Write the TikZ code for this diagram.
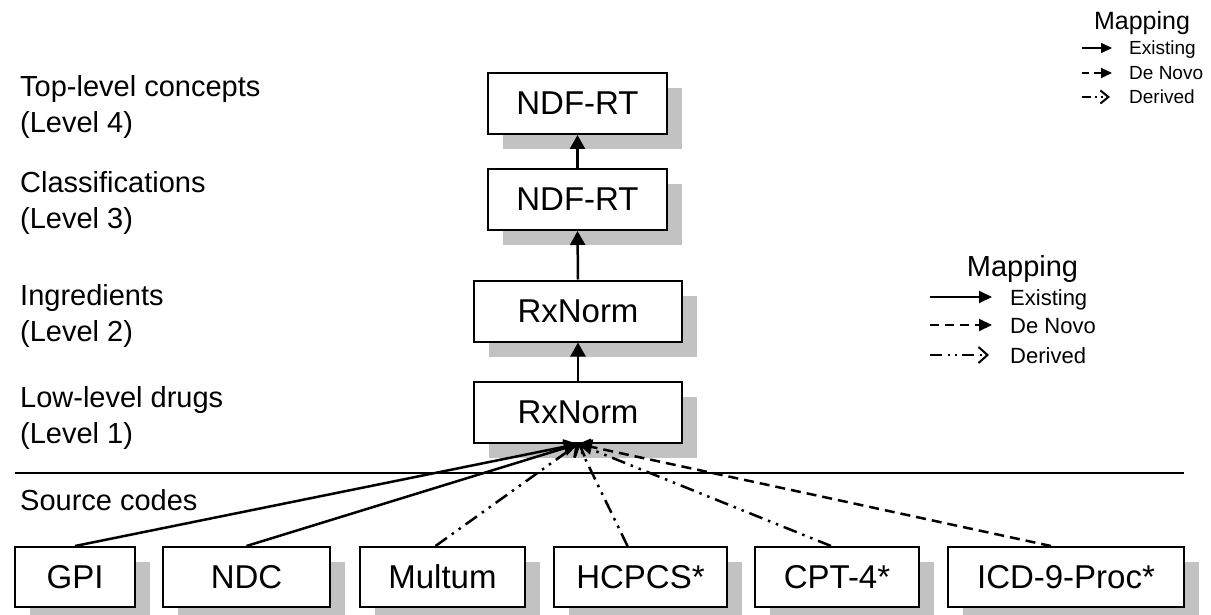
\documentclass[tikz,border=0pt]{standalone}
\usepackage{fontspec}
\setmainfont{Liberation Sans}
\usetikzlibrary{arrows.meta,shadows}
\definecolor{shadowgray}{HTML}{C2C2C2}
\begin{document}
\begin{tikzpicture}[x=1pt,y=-1pt,
  box/.style={draw, line width=2pt, fill=white, inner sep=0pt,
    font=\fontsize{33}{40}\selectfont, minimum height=61pt,
    drop shadow={shadow xshift=15pt, shadow yshift=-15pt, fill=shadowgray, opacity=1, draw=none}},
  lbl/.style={anchor=base west, inner sep=0pt, font=\fontsize{29}{35}\selectfont},
  existing/.style={line width=2.5pt, -{Triangle[length=14pt,width=15pt]}},
  denovo/.style={existing, dash pattern=on 10pt off 6pt},
  derived/.style={line width=2.5pt, dash pattern=on 14pt off 6pt on 2.5pt off 6pt on 2.5pt off 6pt,
    -{Straight Barb[length=9pt,width=18pt,line width=2.5pt]}},
  lgA/.style={line width=2pt, -{Triangle[length=13pt,width=12pt]}},
  lgAd/.style={lgA, dash pattern=on 9pt off 6pt},
  lgAr/.style={line width=2pt, dash pattern=on 12pt off 6pt on 2pt off 5pt on 2pt off 5pt,
    -{Straight Barb[length=9pt,width=16pt,line width=2pt]}},
  lgB/.style={line width=2pt, -{Triangle[length=11pt,width=10pt]}},
  lgBd/.style={lgB, dash pattern=on 7pt off 5pt},
  lgBr/.style={line width=2pt, dash pattern=on 9pt off 4pt on 2pt off 4pt on 2pt off 4pt,
    -{Straight Barb[length=8pt,width=13pt,line width=2pt]}},
  lgtxtA/.style={anchor=base west, inner sep=0pt, font=\fontsize{22}{26}\selectfont},
  lgtxtB/.style={anchor=base west, inner sep=0pt, font=\fontsize{19}{23}\selectfont},
]
\useasboundingbox (0,0) rectangle (1211,615);

% level labels
\node[lbl] (l4a) at (20,97) {Top-level concepts};
\node[lbl] (l4b) at (20,133) {(Level 4)};
\node[lbl] (l3a) at (20,193) {Classifications};
\node[lbl] (l3b) at (20,229) {(Level 3)};
\node[lbl] (l2a) at (20,305) {Ingredients};
\node[lbl] (l2b) at (20,341) {(Level 2)};
\node[lbl] (l1a) at (20,407) {Low-level drugs};
\node[lbl] (l1b) at (20,443) {(Level 1)};
\node[lbl] (src) at (20,510) {Source codes};

% separator
\coordinate (sepL) at (15,473);
\coordinate (sepR) at (1184,473);
\draw[line width=2pt] (sepL) -- (sepR);

% hierarchy boxes
\node[box, minimum width=179pt] (ndf1) at (577.5,103.5) {NDF-RT};
\node[box, minimum width=179pt] (ndf2) at (577.5,199.5) {NDF-RT};
\node[box, minimum width=208pt] (rx2) at (578,311) {RxNorm};
\node[box, minimum width=208pt] (rx1) at (578,412.5) {RxNorm};

\draw[existing] (rx1.north) -- (rx2.south);
\draw[existing] (rx2.north) -- (ndf2.south);
\draw[existing] (ndf2.north) -- (ndf1.south);

% source boxes
\node[box, minimum width=120pt, minimum height=60pt] (gpi) at (75,577) {GPI};
\node[box, minimum width=167pt, minimum height=60pt] (ndc) at (246.5,577) {NDC};
\node[box, minimum width=165pt, minimum height=60pt] (mul) at (442.5,577) {Multum};
\node[box, minimum width=173pt, minimum height=60pt] (hcp) at (640.5,577) {HCPCS*};
\node[box, minimum width=164pt, minimum height=60pt] (cpt) at (837,577) {CPT-4*};
\node[box, minimum width=236pt, minimum height=60pt] (icd) at (1066,577) {ICD-9-Proc*};

\draw[existing] (gpi.north) -- (rx1.south);
\draw[existing] (ndc.north) -- (rx1.south);
\draw[derived] ([xshift=-7pt]mul.north) -- (rx1.south);
\draw[derived] ([xshift=-13pt]hcp.north) -- (rx1.south);
\draw[derived] ([xshift=-6pt]cpt.north) -- (rx1.south);
\draw[denovo] ([xshift=-15pt]icd.north) -- (rx1.south);

% legend (middle right)
\node[anchor=base, inner sep=0pt, font=\fontsize{29}{35}\selectfont] (mapA) at (1022.5,276) {Mapping};
\coordinate (a1s) at (930,297); \coordinate (a1e) at (992,297);
\coordinate (a2s) at (930,325); \coordinate (a2e) at (992,325);
\coordinate (a3s) at (930,355); \coordinate (a3e) at (989,355);
\draw[lgA] (a1s) -- (a1e);
\draw[lgAd] (a2s) -- (a2e);
\draw[lgAr] (a3s) -- (a3e);
\node[lgtxtA] (ta1) at (1010,305) {Existing};
\node[lgtxtA] (ta2) at (1010,333) {De Novo};
\node[lgtxtA] (ta3) at (1010,363) {Derived};

% legend (top right)
\node[anchor=base, inner sep=0pt, font=\fontsize{25}{30}\selectfont] (mapB) at (1142,30) {Mapping};
\coordinate (b1s) at (1082,48); \coordinate (b1e) at (1112,48);
\coordinate (b2s) at (1082,73); \coordinate (b2e) at (1112,73);
\coordinate (b3s) at (1082,97); \coordinate (b3e) at (1110,97);
\draw[lgB] (b1s) -- (b1e);
\draw[lgBd] (b2s) -- (b2e);
\draw[lgBr] (b3s) -- (b3e);
\node[lgtxtB] (tb1) at (1129,55) {Existing};
\node[lgtxtB] (tb2) at (1129,80) {De Novo};
\node[lgtxtB] (tb3) at (1129,104) {Derived};
\end{tikzpicture}
\end{document}
